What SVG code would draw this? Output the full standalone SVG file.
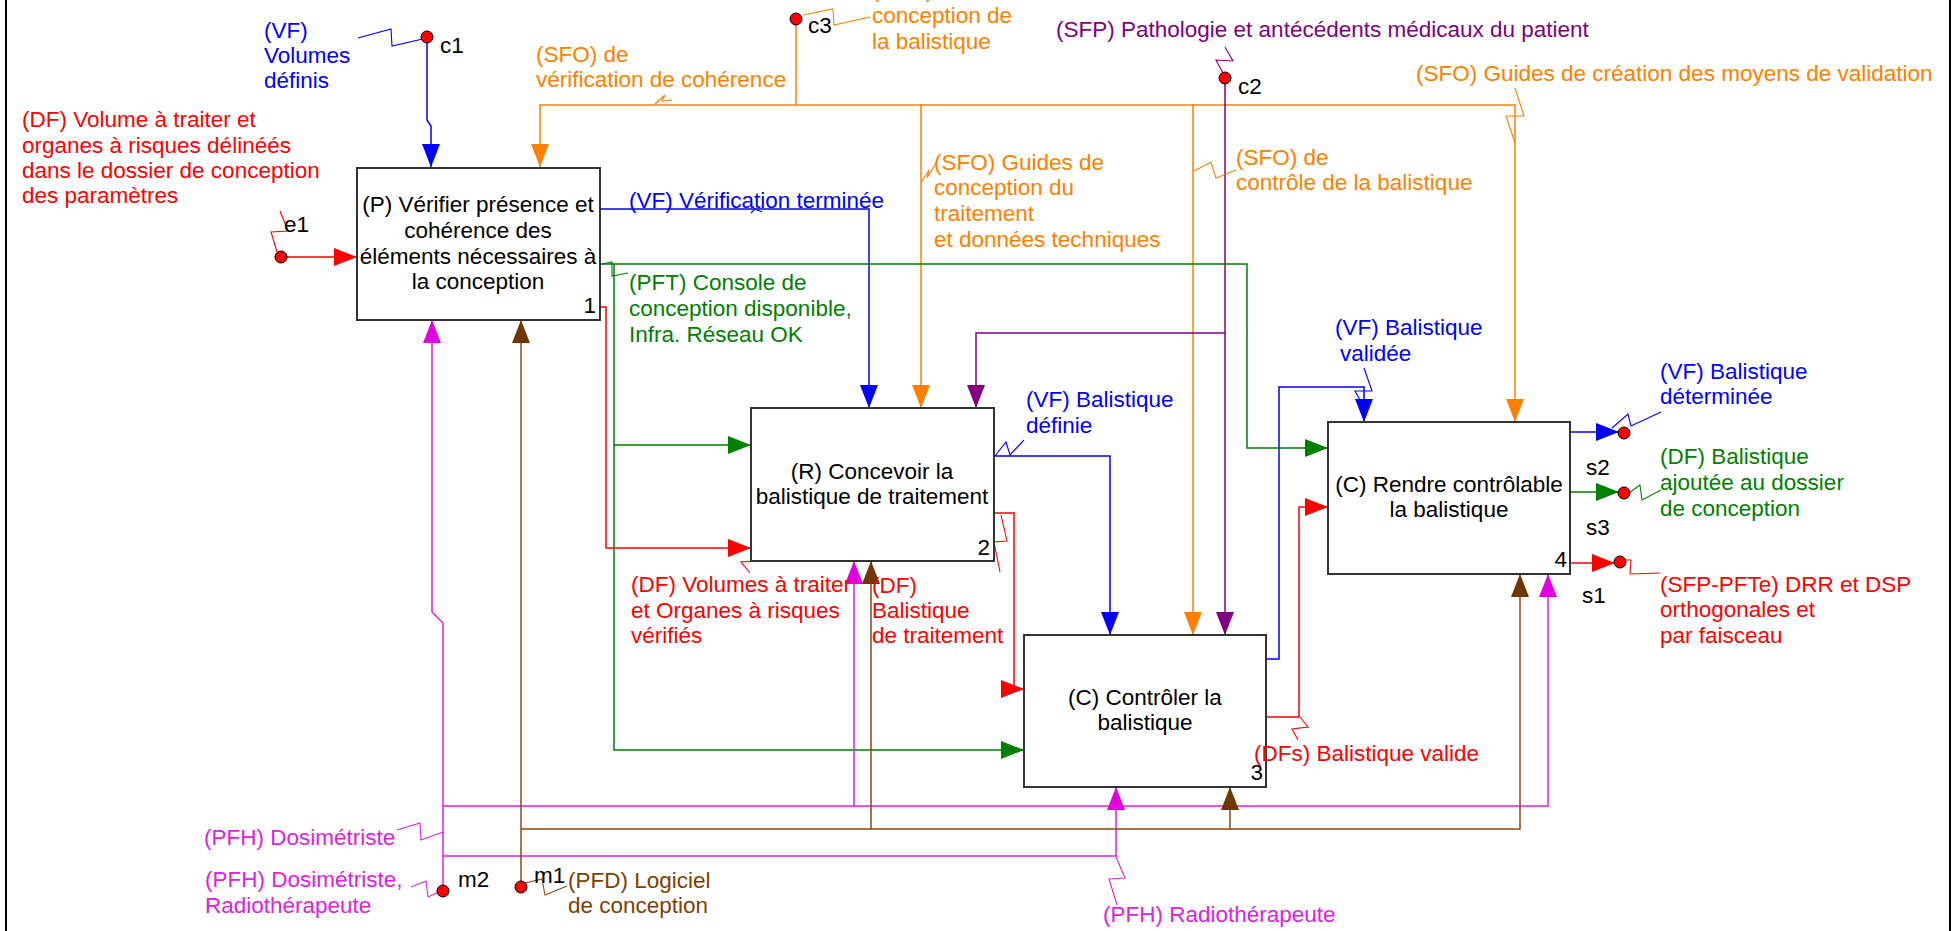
<svg xmlns="http://www.w3.org/2000/svg" width="1953" height="931" viewBox="0 0 1953 931">
<style>
text{font-family:"Liberation Sans",Arial,sans-serif;font-size:22.5px}
.box{fill:#fff;stroke:#333;stroke-width:2}
.c{fill:none;stroke-width:1.5}
.q{fill:none;stroke-width:1.1}
.b{stroke:#0000ff}.o{stroke:#ff8000}.p{stroke:#800080}.g{stroke:#008000}.r{stroke:#ff0000}.m{stroke:#e020e0}.n{stroke:#8b4a14}
.tb{fill:#0000ff}.to{fill:#ff8000}.tp{fill:#800080}.tg{fill:#008000}.tr{fill:#ff0000}.tm{fill:#e020e0}.tn{fill:#804000}.tk{fill:#000}
.dot{fill:#ff0000;stroke:#000;stroke-width:1}
.mid{text-anchor:middle}.end{text-anchor:end}
</style>
<defs>
<marker id="ab" markerUnits="userSpaceOnUse" markerWidth="23" markerHeight="18" refX="23" refY="9" orient="auto"><path d="M0,0 L23,9 L0,18 z" fill="#0000ff"/></marker>
<marker id="ao" markerUnits="userSpaceOnUse" markerWidth="23" markerHeight="18" refX="23" refY="9" orient="auto"><path d="M0,0 L23,9 L0,18 z" fill="#ff8000"/></marker>
<marker id="ap" markerUnits="userSpaceOnUse" markerWidth="23" markerHeight="18" refX="23" refY="9" orient="auto"><path d="M0,0 L23,9 L0,18 z" fill="#800080"/></marker>
<marker id="ag" markerUnits="userSpaceOnUse" markerWidth="23" markerHeight="18" refX="23" refY="9" orient="auto"><path d="M0,0 L23,9 L0,18 z" fill="#008000"/></marker>
<marker id="ar" markerUnits="userSpaceOnUse" markerWidth="23" markerHeight="18" refX="23" refY="9" orient="auto"><path d="M0,0 L23,9 L0,18 z" fill="#ff0000"/></marker>
<marker id="am" markerUnits="userSpaceOnUse" markerWidth="23" markerHeight="18" refX="23" refY="9" orient="auto"><path d="M0,0 L23,9 L0,18 z" fill="#e000e0"/></marker>
<marker id="an" markerUnits="userSpaceOnUse" markerWidth="23" markerHeight="18" refX="23" refY="9" orient="auto"><path d="M0,0 L23,9 L0,18 z" fill="#703800"/></marker>
</defs>
<rect width="1953" height="931" fill="#fff"/>
<g id="frame" stroke="#000" stroke-width="2">
<line x1="6" y1="0" x2="6" y2="931"/>
<line x1="1950" y1="0" x2="1950" y2="931"/>
</g>
<g id="connectors">
<path class="c b" d="M427,37 L427,120 L431,126 L431,167" marker-end="url(#ab)"/>
<path class="c b" d="M601,209 L869,209 L869,408" marker-end="url(#ab)"/>
<path class="c b" d="M994,456 L1110,456 L1110,635" marker-end="url(#ab)"/>
<path class="c b" d="M1266,659 L1279,659 L1279,387 L1364,387 L1364,422" marker-end="url(#ab)"/>
<path class="c b" d="M1570,432 L1619,432" marker-end="url(#ab)"/>
<path class="c o" d="M796,19 L796,105"/>
<path class="c o" d="M796,105 L540,105 L540,167" marker-end="url(#ao)"/>
<path class="c o" d="M796,105 L921,105 L921,408" marker-end="url(#ao)"/>
<path class="c o" d="M921,105 L1193,105 L1193,635" marker-end="url(#ao)"/>
<path class="c o" d="M1193,105 L1515,105 L1515,422" marker-end="url(#ao)"/>
<path class="c p" d="M1225,78 L1225,635" marker-end="url(#ap)"/>
<path class="c p" d="M1225,333 L976,333 L976,408" marker-end="url(#ap)"/>
<path class="c g" d="M601,264 L1247,264 L1247,448 L1328,448" marker-end="url(#ag)"/>
<path class="c g" d="M614,264 L614,445 L751,445" marker-end="url(#ag)"/>
<path class="c g" d="M614,445 L614,750 L1024,750" marker-end="url(#ag)"/>
<path class="c g" d="M1570,492 L1619,492" marker-end="url(#ag)"/>
<path class="c r" d="M281,257 L357,257" marker-end="url(#ar)"/>
<path class="c r" d="M601,307 L606,307 L606,548 L751,548" marker-end="url(#ar)"/>
<path class="c r" d="M994,513 L1014,513 L1014,689 L1024,689" marker-end="url(#ar)"/>
<path class="c r" d="M1266,717 L1299,717 L1299,507 L1328,507" marker-end="url(#ar)"/>
<path class="c r" d="M1570,563 L1615,563" marker-end="url(#ar)"/>
<path class="c m" d="M443,891 L443,623 L432,612 L432,320" marker-end="url(#am)"/>
<path class="c m" d="M443,806 L854,806 L854,561" marker-end="url(#am)"/>
<path class="c m" d="M854,806 L1548,806 L1548,574" marker-end="url(#am)"/>
<path class="c m" d="M443,856 L1116,856 L1116,787" marker-end="url(#am)"/>
<path class="c n" d="M521,887 L521,320" marker-end="url(#an)"/>
<path class="c n" d="M521,829 L871,829 L871,561" marker-end="url(#an)"/>
<path class="c n" d="M871,829 L1230,829 L1230,787" marker-end="url(#an)"/>
<path class="c n" d="M1230,829 L1520,829 L1520,574" marker-end="url(#an)"/>
<path class="q b" d="M358,38 L391,29 L392,46 L427,38"/>
<path class="q r" d="M280,211 L288,231 L271,232 L277,252"/>
<path class="q o" d="M655,104 L665,95 L662,101 L672,100"/>
<path class="q o" d="M803,15 L833,9 L834,25 L870,17"/>
<path class="q o" d="M921,183 L929,170 L927,178 L936,163"/>
<path class="q o" d="M1194,171 L1211,162 L1216,178 L1236,170"/>
<path class="q o" d="M1515,88 L1524,116 L1506,116 L1515,143"/>
<path class="q p" d="M1225,47 L1233,61 L1216,60 L1223,73"/>
<path class="q b" d="M751,213 L755,209 L762,212"/>
<path class="q g" d="M602,264 L612,262 L612,276 L628,273"/>
<path class="q r" d="M756,553 L754,561 L741,562 L750,573"/>
<path class="q r" d="M1001,515 L1007,541 L994,542 L1000,572"/>
<path class="q b" d="M995,456 L1006,442 L1010,455 L1024,440"/>
<path class="q b" d="M1364,368 L1372,391 L1355,391 L1360,400"/>
<path class="q b" d="M1661,412 L1631,426 L1628,414 L1612,428"/>
<path class="q g" d="M1629,493 L1640,485 L1642,500 L1661,490"/>
<path class="q r" d="M1626,560 L1631,560 L1630,574 L1660,573"/>
<path class="q r" d="M1300,717 L1308,727 L1292,729 L1298,740"/>
<path class="q m" d="M397,830 L420,823 L421,840 L443,832"/>
<path class="q m" d="M411,887 L426,881 L428,897 L443,890"/>
<path class="q n" d="M525,883 L542,879 L545,895 L567,886"/>
<path class="q m" d="M1116,857 L1125,878 L1109,879 L1117,905"/>
</g>
<g id="node1">
<rect class="box" x="357" y="168" width="243" height="152"/>
<text class="mid" x="478" y="212">(P) Vérifier présence et</text>
<text class="mid" x="478" y="238">cohérence des</text>
<text class="mid" x="478" y="264">éléments nécessaires à</text>
<text class="mid" x="478" y="289">la conception</text>
<text class="end" x="596" y="313">1</text>
</g>
<g id="node2">
<rect class="box" x="751" y="408" width="243" height="153"/>
<text class="mid" x="872" y="479">(R) Concevoir la</text>
<text class="mid" x="872" y="504">balistique de traitement</text>
<text class="end" x="990" y="555">2</text>
</g>
<g id="node3">
<rect class="box" x="1024" y="635" width="242" height="152"/>
<text class="mid" x="1145" y="705">(C) Contrôler la</text>
<text class="mid" x="1145" y="730">balistique</text>
<text class="end" x="1263" y="780">3</text>
</g>
<g id="node4">
<rect class="box" x="1328" y="422" width="242" height="152"/>
<text class="mid" x="1449" y="492">(C) Rendre contrôlable</text>
<text class="mid" x="1449" y="517">la balistique</text>
<text class="end" x="1567" y="567">4</text>
</g>
<g id="dots">
<circle class="dot" cx="427" cy="37" r="6"/>
<circle class="dot" cx="796" cy="19" r="6"/>
<circle class="dot" cx="1225" cy="78" r="6"/>
<circle class="dot" cx="281" cy="257" r="6"/>
<circle class="dot" cx="443" cy="891" r="6"/>
<circle class="dot" cx="521" cy="887" r="6"/>
<circle class="dot" cx="1624" cy="433" r="6"/>
<circle class="dot" cx="1624" cy="493" r="6"/>
<circle class="dot" cx="1620" cy="562" r="6"/>
</g>
<g id="labels">
<text class="tb" x="264" y="38">(VF)</text>
<text class="tb" x="264" y="63">Volumes</text>
<text class="tb" x="264" y="88">définis</text>
<text class="tk" x="440" y="53">c1</text>
<text class="tr" x="22" y="127">(DF) Volume à traiter et</text>
<text class="tr" x="22" y="153">organes à risques délinéés</text>
<text class="tr" x="22" y="178">dans le dossier de conception</text>
<text class="tr" x="22" y="203">des paramètres</text>
<text class="tk" x="284" y="232">e1</text>
<text class="to" x="536" y="62">(SFO) de</text>
<text class="to" x="536" y="87">vérification de cohérence</text>
<text class="tk" x="808" y="33">c3</text>
<text class="to" x="872" y="-3">(SFO) Guides de</text>
<text class="to" x="872" y="23">conception de</text>
<text class="to" x="872" y="49">la balistique</text>
<text class="tp" x="1056" y="37">(SFP) Pathologie et antécédents médicaux du patient</text>
<text class="tk" x="1238" y="94">c2</text>
<text class="to" x="1416" y="81">(SFO) Guides de création des moyens de validation</text>
<text class="to" x="934" y="170">(SFO) Guides de</text>
<text class="to" x="934" y="195">conception du</text>
<text class="to" x="934" y="221">traitement</text>
<text class="to" x="934" y="247">et données techniques</text>
<text class="to" x="1236" y="165">(SFO) de</text>
<text class="to" x="1236" y="190">contrôle de la balistique</text>
<text class="tb" x="629" y="208">(VF) Vérification terminée</text>
<text class="tg" x="629" y="290">(PFT) Console de</text>
<text class="tg" x="629" y="316">conception disponible,</text>
<text class="tg" x="629" y="342">Infra. Réseau OK</text>
<text class="tb" x="1335" y="335">(VF) Balistique</text>
<text class="tb" x="1340" y="361">validée</text>
<text class="tb" x="1026" y="407">(VF) Balistique</text>
<text class="tb" x="1026" y="433">définie</text>
<text class="tb" x="1660" y="379">(VF) Balistique</text>
<text class="tb" x="1660" y="404">déterminée</text>
<text class="tk" x="1586" y="475">s2</text>
<text class="tg" x="1660" y="464">(DF) Balistique</text>
<text class="tg" x="1660" y="490">ajoutée au dossier</text>
<text class="tg" x="1660" y="516">de conception</text>
<text class="tk" x="1586" y="535">s3</text>
<text class="tk" x="1582" y="603">s1</text>
<text class="tr" x="1660" y="592">(SFP-PFTe) DRR et DSP</text>
<text class="tr" x="1660" y="617">orthogonales et</text>
<text class="tr" x="1660" y="643">par faisceau</text>
<text class="tr" x="631" y="592">(DF) Volumes à traiter</text>
<text class="tr" x="631" y="618">et Organes à risques</text>
<text class="tr" x="631" y="643">vérifiés</text>
<text class="tr" x="872" y="593">(DF)</text>
<text class="tr" x="872" y="618">Balistique</text>
<text class="tr" x="872" y="643">de traitement</text>
<text class="tr" x="1254" y="761">(DFs) Balistique valide</text>
<text class="tm" x="204" y="845">(PFH) Dosimétriste</text>
<text class="tm" x="205" y="887">(PFH) Dosimétriste,</text>
<text class="tm" x="205" y="913">Radiothérapeute</text>
<text class="tk" x="458" y="887">m2</text>
<text class="tk" x="534" y="883">m1</text>
<text class="tn" x="568" y="888">(PFD) Logiciel</text>
<text class="tn" x="568" y="913">de conception</text>
<text class="tm" x="1103" y="922">(PFH) Radiothérapeute</text>
</g>
</svg>
